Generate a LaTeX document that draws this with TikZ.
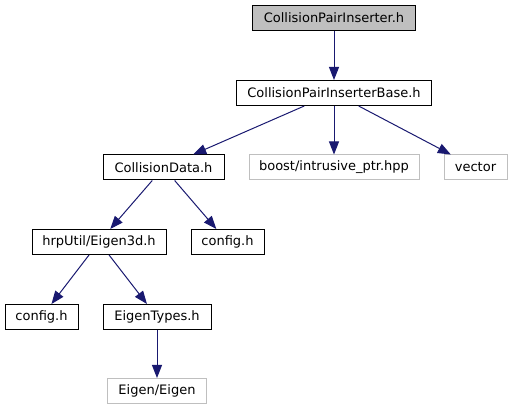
\documentclass[tikz,border=0pt]{standalone}
\usepackage{fontspec}
\setmainfont{DejaVu Sans}
\usetikzlibrary{arrows.meta}
\definecolor{edgeblue}{HTML}{191970}
\definecolor{grayline}{HTML}{BFBFBF}
\tikzset{
  x=1pt, y=-1pt,
  filebox/.style={draw=black, line width=1pt, rectangle, minimum height=25pt, inner sep=0pt,
    font=\fontsize{13}{15}\selectfont, fill=white},
  extbox/.style={filebox, draw=grayline},
  rootbox/.style={filebox, fill=grayline},
  dep/.style={draw=edgeblue, line width=1pt, -{Triangle[length=13pt,width=10pt,fill=edgeblue]}}
}
\begin{document}
\begin{tikzpicture}
\useasboundingbox (0,0) rectangle (512,411);
\node[rootbox, minimum width=163pt] (root) at (334,18) {CollisionPairInserter.h};
\node[filebox, minimum width=195pt] (base) at (334,93) {CollisionPairInserterBase.h};
\node[filebox, minimum width=121pt] (cdata) at (163.5,167.5) {CollisionData.h};
\node[extbox, minimum width=170pt] (boost) at (334,167.5) {boost/intrusive\_ptr.hpp};
\node[extbox, minimum width=63pt] (vector) at (475.5,167.5) {vector};
\node[filebox, minimum width=134pt] (eigen3d) at (99,242) {hrpUtil/Eigen3d.h};
\node[filebox, minimum width=73pt] (configR) at (227.5,242) {config.h};
\node[filebox, minimum width=73pt] (configL) at (41.5,317) {config.h};
\node[filebox, minimum width=108pt] (etypes) at (157,317) {EigenTypes.h};
\node[extbox, minimum width=99pt] (eigen) at (157,391) {Eigen/Eigen};
\draw[dep] (root) -- (base);
\draw[dep] (base) -- (cdata);
\draw[dep] (base) -- (boost);
\draw[dep] (base) -- (vector);
\draw[dep] (cdata) -- (eigen3d);
\draw[dep] (cdata) -- (configR);
\draw[dep] (eigen3d) -- (configL);
\draw[dep] (eigen3d) -- (etypes);
\draw[dep] (etypes) -- (eigen);
\end{tikzpicture}
\end{document}
